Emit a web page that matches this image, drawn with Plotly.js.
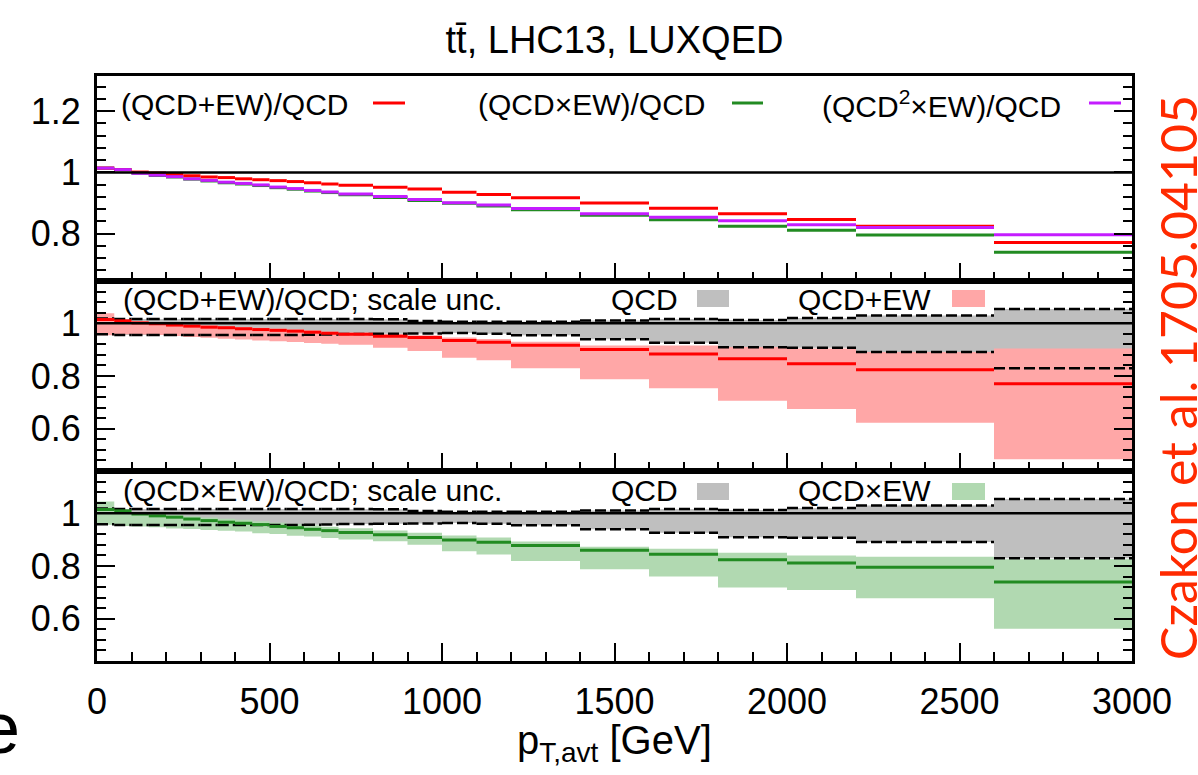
<!DOCTYPE html>
<html>
<head>
<meta charset="utf-8">
<script src="https://cdn.plot.ly/plotly-3.0.1.min.js"></script>
<style>html,body{margin:0;padding:0;background:#fff;}#plot{width:1198px;height:775px;}</style>
</head>
<body>
<div id="plot"></div>
<script>
// ---- data ----
const binEdges = [0,50,100,150,200,250,300,350,400,450,500,550,600,650,700,800,900,1000,1100,1200,1400,1600,1800,2000,2200,2600,3000];

const qcdPlusEW = [1.014,1.009,1.001,0.998,0.993,0.989,0.985,0.983,0.979,0.976,0.973,0.970,0.966,0.962,0.958,0.951,0.946,0.935,0.928,0.917,0.900,0.883,0.865,0.846,0.824,0.771];
const qcdTimesEW = [1.014,1.009,0.997,0.990,0.985,0.978,0.972,0.966,0.962,0.957,0.950,0.945,0.939,0.934,0.927,0.918,0.908,0.899,0.890,0.878,0.860,0.845,0.824,0.811,0.795,0.739];
const qcd2TimesEW = [1.014,1.009,0.997,0.991,0.986,0.979,0.974,0.968,0.964,0.959,0.952,0.947,0.941,0.936,0.929,0.921,0.911,0.901,0.893,0.882,0.865,0.853,0.842,0.829,0.820,0.796];

const qcdScaleHi = [1.018,1.016,1.016,1.016,1.016,1.016,1.016,1.016,1.016,1.016,1.016,1.016,1.016,1.016,1.016,1.015,1.008,1.006,1.006,1.006,1.010,1.016,1.0125,1.020,1.029,1.054];
const qcdScaleLo = [0.958,0.955,0.955,0.955,0.955,0.955,0.955,0.955,0.955,0.955,0.955,0.955,0.956,0.957,0.959,0.960,0.961,0.963,0.960,0.954,0.939,0.926,0.909,0.907,0.891,0.829];

const plusEWHi = [1.0375,1.012,1.008,1.004,1.000,0.996,0.992,0.989,0.986,0.983,0.980,0.977,0.973,0.969,0.965,0.959,0.954,0.946,0.940,0.930,0.916,0.916,0.910,0.904,0.891,0.904];
const plusEWLo = [0.954,0.958,0.957,0.955,0.952,0.948,0.945,0.941,0.938,0.935,0.932,0.929,0.925,0.922,0.918,0.9075,0.895,0.869,0.860,0.829,0.7875,0.754,0.706,0.675,0.6225,0.485];

const timesEWHi = [1.044,1.012,1.004,0.999,0.994,0.989,0.984,0.979,0.975,0.970,0.964,0.959,0.954,0.949,0.943,0.935,0.926,0.916,0.908,0.893,0.873,0.865,0.850,0.840,0.835,0.826];
const timesEWLo = [0.956,0.952,0.950,0.947,0.942,0.940,0.936,0.934,0.931,0.924,0.921,0.915,0.912,0.906,0.900,0.894,0.881,0.856,0.844,0.819,0.7875,0.760,0.719,0.709,0.6775,0.5625];

const xTickVals = [0,500,1000,1500,2000,2500,3000];

// ---- styles ----
const RED = '#ff0000', GREEN = '#228b22', PURPLE = '#c41cff';
const PINK = '#ffa7a7', LGREEN = '#b1d9b1', GRAY = '#bfbfbf';
const FONT = 'Liberation Sans, Arial, Helvetica, sans-serif';

// pixel helpers for paper coords
const L = 97, R = 1132, T = 76, B = 661;
const px = x => (x - L) / (R - L);
const py = y => (B - y) / (B - T);

function segments(vals) {
  const x = [], y = [];
  vals.forEach((v, i) => { x.push(binEdges[i], binEdges[i+1], null); y.push(v, v, null); });
  return {x, y};
}
function bandPoly(lo, hi) {
  const x = [], y = [];
  lo.forEach((v, i) => {
    const a = binEdges[i], b = binEdges[i+1];
    x.push(a, b, b, a, a, null);
    y.push(v, v, hi[i], hi[i], v, null);
  });
  return {x, y};
}
function lineTrace(vals, color, xa, ya, dash, width) {
  const s = segments(vals);
  return {x: s.x, y: s.y, xaxis: xa, yaxis: ya, mode: 'lines', type: 'scatter',
    line: {color: color, width: width || 3, dash: dash || 'solid'}, hoverinfo: 'skip', showlegend: false, connectgaps: false};
}
function bandTrace(lo, hi, color, xa, ya) {
  const p = bandPoly(lo, hi);
  return {x: p.x, y: p.y, xaxis: xa, yaxis: ya, mode: 'lines', type: 'scatter', fill: 'toself',
    fillcolor: color, line: {width: 0, color: color}, hoverinfo: 'skip', showlegend: false, connectgaps: false};
}

const DASH = '11px,4px';
const traces = [
  // top panel
  lineTrace(qcdTimesEW, GREEN, 'x', 'y'),
  lineTrace(qcdPlusEW, RED, 'x', 'y'),
  lineTrace(qcd2TimesEW, PURPLE, 'x', 'y'),
  // middle panel
  bandTrace(qcdScaleLo, qcdScaleHi, GRAY, 'x2', 'y2'),
  bandTrace(plusEWLo, plusEWHi, PINK, 'x2', 'y2'),
  lineTrace(qcdScaleHi, '#000', 'x2', 'y2', DASH, 2.5),
  lineTrace(qcdScaleLo, '#000', 'x2', 'y2', DASH, 2.5),
  lineTrace(qcdPlusEW, RED, 'x2', 'y2'),
  // bottom panel
  bandTrace(qcdScaleLo, qcdScaleHi, GRAY, 'x3', 'y3'),
  bandTrace(timesEWLo, timesEWHi, LGREEN, 'x3', 'y3'),
  lineTrace(qcdScaleHi, '#000', 'x3', 'y3', DASH, 2.5),
  lineTrace(qcdScaleLo, '#000', 'x3', 'y3', DASH, 2.5),
  lineTrace(qcdTimesEW, GREEN, 'x3', 'y3')
];

function xAxis(anchor, labels) {
  return {domain: [0, 1], anchor: anchor, range: [0, 3000], tickmode: 'array', tickvals: xTickVals,
    showticklabels: labels, ticks: 'inside', ticklen: 18, tickwidth: 2, tickcolor: '#000',
    minor: {ticks: 'inside', ticklen: 9, tickwidth: 2, dtick: 100, tickcolor: '#000', showgrid: false},
    showline: true, linewidth: 3, linecolor: '#000', mirror: true, showgrid: false, zeroline: false,
    tickfont: {family: FONT, size: 36, color: '#000'}, ticklabelstandoff: 7};
}
function yAxis(domain, range, anchor) {
  return {domain: domain, anchor: anchor, range: range, tick0: 0, dtick: 0.2,
    ticks: 'inside', ticklen: 18, tickwidth: 2, tickcolor: '#000',
    minor: {ticks: 'inside', ticklen: 9, tickwidth: 2, dtick: 0.04, tick0: 0, tickcolor: '#000', showgrid: false},
    showline: true, linewidth: 3, linecolor: '#000', mirror: 'ticks', showgrid: false, zeroline: false,
    tickfont: {family: FONT, size: 36, color: '#000'}, ticklabelstandoff: 6};
}

const dTop = [py(281), 1], dMid = [py(471), py(281)], dBot = [0, py(471)];
const layout = {
  width: 1198, height: 775,
  margin: {l: L, r: 1198 - R, t: T, b: 775 - B, pad: 0},
  paper_bgcolor: '#fff', plot_bgcolor: '#fff',
  showlegend: false,
  title: {text: 't\u0074\u0304, LHC13, LUXQED', font: {family: FONT, size: 38, color: '#000'},
    x: 0.5, xref: 'paper', y: 1 - 40/775, yref: 'container', yanchor: 'middle', xanchor: 'center'},
  xaxis: xAxis('y', false),
  xaxis2: xAxis('y2', false),
  xaxis3: xAxis('y3', true),
  yaxis: yAxis(dTop, [0.645, 1.315], 'x'),
  yaxis2: yAxis(dMid, [0.44, 1.16], 'x2'),
  yaxis3: yAxis(dBot, [0.44, 1.16], 'x3'),
  shapes: [],
  annotations: []
};

// reference lines at 1
[['x','y'],['x2','y2'],['x3','y3']].forEach(([xa, ya]) => {
  layout.shapes.push({type: 'line', xref: xa, yref: ya, x0: 0, x1: 3000, y0: 1, y1: 1, line: {color: '#000', width: 2.5}});
});

function addText(text, xLeft, yc, size, color) {
  layout.annotations.push({text: text, xref: 'paper', yref: 'paper', x: px(xLeft), y: py(yc),
    xanchor: 'left', yanchor: 'middle', showarrow: false, font: {family: FONT, size: size || 30, color: color || '#000'}});
}
function addSampleLine(x0, x1, y, color) {
  layout.shapes.push({type: 'line', xref: 'paper', yref: 'paper', x0: px(x0), x1: px(x1), y0: py(y), y1: py(y), line: {color: color, width: 3}});
}
function addSampleBox(x0, x1, y0, y1, color) {
  layout.shapes.push({type: 'rect', xref: 'paper', yref: 'paper', x0: px(x0), x1: px(x1), y0: py(y1), y1: py(y0), line: {width: 0}, fillcolor: color});
}

// top legend
addText('(QCD+EW)/QCD', 119, 104);
addSampleLine(373, 405, 103, RED);
addText('(QCD\u00d7EW)/QCD', 476, 104);
addSampleLine(732, 763, 103, GREEN);
addText('(QCD<sup>2</sup>\u00d7EW)/QCD', 820, 104);
addSampleLine(1089, 1121, 103, PURPLE);
// middle legend
addText('(QCD+EW)/QCD; scale unc.', 121, 299);
addText('QCD', 609, 299);
addSampleBox(697, 729, 290, 307, GRAY);
addText('QCD+EW', 796, 299);
addSampleBox(952, 985, 290, 307, PINK);
// bottom legend
addText('(QCD\u00d7EW)/QCD; scale unc.', 121, 491);
addText('QCD', 609, 491);
addSampleBox(697, 729, 483, 500, GRAY);
addText('QCD\u00d7EW', 796, 491);
addSampleBox(952, 985, 483, 500, LGREEN);

// x-axis title
layout.annotations.push({text: 'p<sub>T,avt</sub> [GeV]', xref: 'paper', yref: 'paper', x: 0.5, y: py(743),
  xanchor: 'center', yanchor: 'middle', showarrow: false, font: {family: FONT, size: 40, color: '#000'}});
// side citation
layout.annotations.push({text: 'Czakon et al. 1705.04105', xref: 'paper', yref: 'paper', x: px(1178), y: py(378),
  xanchor: 'center', yanchor: 'middle', textangle: -90, showarrow: false, font: {family: 'Lato, Open Sans, sans-serif', size: 50, color: '#ff2a00'}});
// cropped letter at bottom-left
layout.annotations.push({text: 'e', xref: 'paper', yref: 'paper', x: px(0), y: py(728),
  xanchor: 'center', yanchor: 'middle', showarrow: false, font: {family: FONT, size: 72, color: '#000'}});

Plotly.newPlot('plot', traces, layout, {displayModeBar: false, staticPlot: true});
</script>
</body>
</html>
